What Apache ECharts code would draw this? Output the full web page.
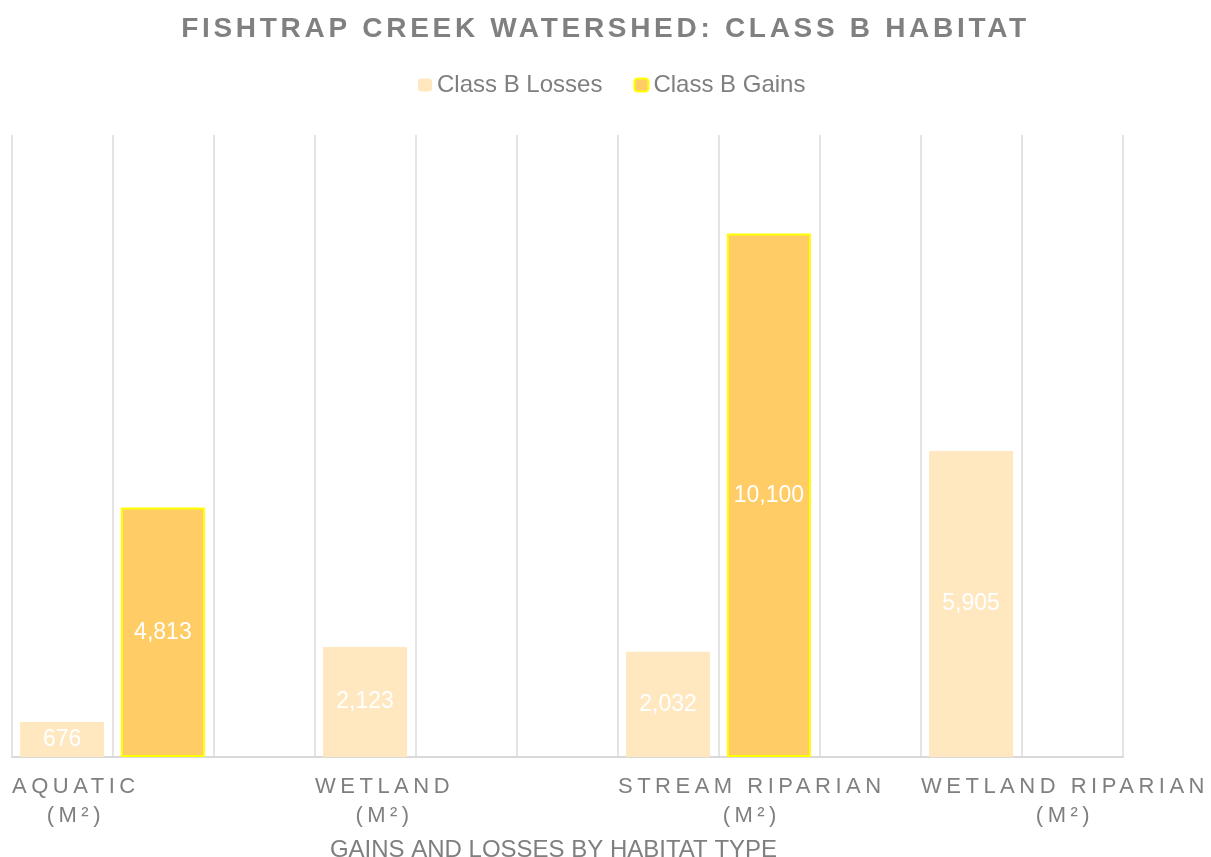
<!DOCTYPE html>
<html>
<head>
<meta charset="utf-8">
<title>Fishtrap Creek Watershed: Class B Habitat</title>
<script src="https://cdn.jsdelivr.net/npm/echarts@6/dist/echarts.min.js"></script>
<style>
  html, body { margin: 0; padding: 0; background: #fff; }
  #chart { width: 1211px; height: 857px; }
</style>
</head>
<body>
<div id="chart"></div>
<script>
const categories = ['AQUATIC (M²)', 'WETLAND (M²)', 'STREAM RIPARIAN (M²)', 'WETLAND RIPARIAN (M²)'];
const losses = [676, 2123, 2032, 5905];
const gains = [4813, null, 10100, null];

// Excel style letter spacing: canvas letterSpacing keyed on font size
// (set on every font change so measuring and drawing agree)
const fontDesc = Object.getOwnPropertyDescriptor(CanvasRenderingContext2D.prototype, 'font');
Object.defineProperty(CanvasRenderingContext2D.prototype, 'font', {
  configurable: true,
  get() { return fontDesc.get.call(this); },
  set(v) {
    fontDesc.set.call(this, v);
    let sp = '0px';
    if (/bold 28px/.test(v)) sp = '3.7px';
    else if (/(^|\s)22px/.test(v)) sp = '4.5px';
    this.letterSpacing = sp;
  }
});

const FONT = 'Liberation Sans';
const GREY = '#7f7f7f';

const chart = echarts.init(document.getElementById('chart'), null, { renderer: 'canvas' });

chart.setOption({
  backgroundColor: '#ffffff',
  animation: false,
  title: {
    text: 'FISHTRAP CREEK WATERSHED: CLASS B HABITAT',
    left: 'center',
    top: 13,
    padding: 0,
    textStyle: { fontFamily: FONT, fontSize: 28, fontWeight: 'bold', color: '#808080' }
  },
  legend: {
    data: ['Class B Losses', 'Class B Gains'],
    left: 418,
    top: 73,
    padding: 0,
    itemWidth: 14,
    itemHeight: 13,
    itemGap: 31,
    textStyle: { fontFamily: FONT, fontSize: 24, color: GREY }
  },
  grid: [
    // bars: category slots of 303px, shifted so each pair starts at the slot's left
    { left: -39, top: 135, width: 1212, height: 622, outerBoundsMode: 'none' },
    // vertical grid lines + labels every 101px
    { left: 12, top: 135, width: 1111, height: 622, outerBoundsMode: 'none' }
  ],
  xAxis: [
    { type: 'category', gridIndex: 0, data: categories, show: false },
    {
      type: 'value', gridIndex: 1, min: 0, max: 11, interval: 1,
      axisLine: { show: true, lineStyle: { color: '#d9d9d9', width: 2 } },
      axisTick: { show: false },
      splitLine: { show: true, lineStyle: { color: '#e4e4e4', width: 2 } },
      axisLabel: {
        align: 'left',
        margin: 15,
        fontSize: 22,
        fontFamily: FONT,
        color: GREY,
        formatter: function (v) {
          if (v % 3 !== 0 || v / 3 >= categories.length) return '';
          const name = categories[v / 3];
          const i = name.indexOf(' (');
          return '{n|' + name.slice(0, i) + '}\n{n|' + name.slice(i + 1) + '}';
        },
        rich: {
          n: { fontSize: 22, fontFamily: FONT, color: GREY, align: 'center', lineHeight: 29 }
        }
      },
      name: 'GAINS AND LOSSES BY HABITAT TYPE',
      nameLocation: 'middle',
      nameGap: 81,
      nameTextStyle: { fontFamily: FONT, fontSize: 24, color: GREY, padding: [0, 28, 0, 0] }
    }
  ],
  yAxis: [
    { type: 'value', gridIndex: 0, min: 0, max: 12000, show: false },
    { type: 'value', gridIndex: 1, min: 0, max: 1, show: false }
  ],
  series: [
    {
      name: 'Class B Losses',
      type: 'bar',
      xAxisIndex: 0,
      yAxisIndex: 0,
      data: losses,
      barWidth: 84,
      barGap: '20%',
      itemStyle: { color: '#ffe8c0' },
      label: {
        show: true,
        position: 'inside',
        color: '#ffffff',
        fontFamily: FONT,
        fontSize: 23,
        formatter: p => p.value.toLocaleString('en-US')
      }
    },
    {
      name: 'Class B Gains',
      type: 'bar',
      xAxisIndex: 0,
      yAxisIndex: 0,
      data: gains,
      barWidth: 84,
      barGap: '20%',
      itemStyle: { color: '#ffcc66', borderColor: '#ffff00', borderWidth: 2 },
      label: {
        show: true,
        position: 'inside',
        color: '#ffffff',
        fontFamily: FONT,
        fontSize: 23,
        formatter: p => p.value.toLocaleString('en-US')
      }
    }
  ]
});
</script>
</body>
</html>
